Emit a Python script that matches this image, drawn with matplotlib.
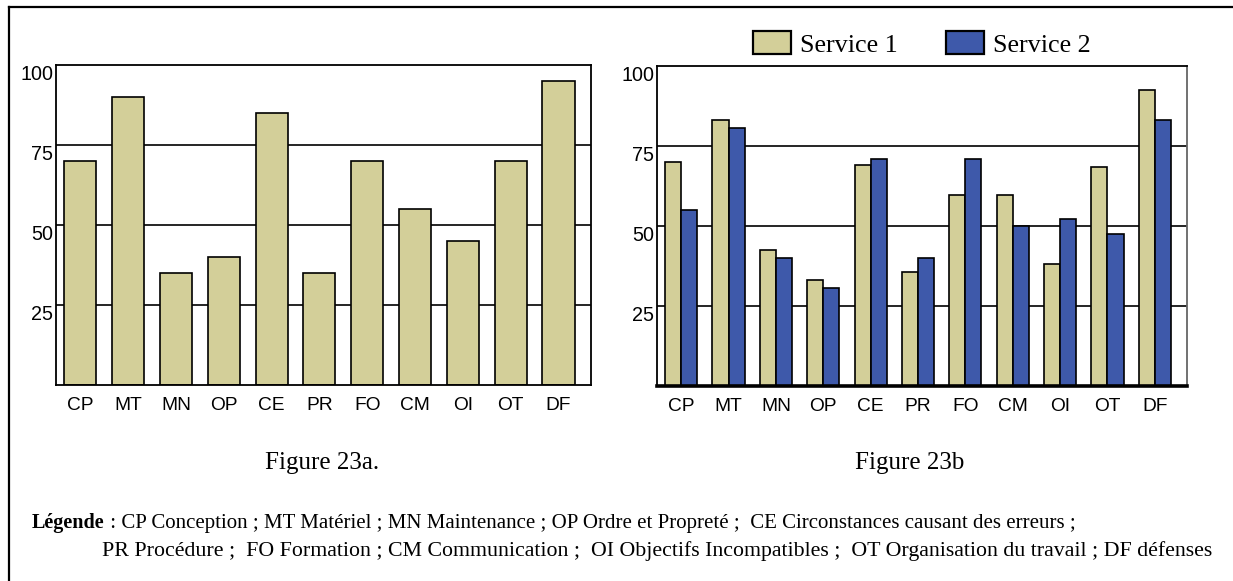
import matplotlib
matplotlib.use('Agg')
import matplotlib.pyplot as plt
import numpy as np
from matplotlib.lines import Line2D

# ========== 数据 ==========
categories = ['CP', 'MT', 'MN', 'OP', 'CE', 'PR', 'FO', 'CM', 'OI', 'OT', 'DF']
values_a = [70, 90, 35, 40, 85, 35, 70, 55, 45, 70, 95]
service1 = [70, 83, 42.5, 33, 69, 35.5, 59.5, 59.5, 38, 68.5, 92.5]
service2 = [55, 80.5, 40, 30.5, 71, 40, 71, 50, 52, 47.5, 83]
yticks = [25, 50, 75, 100]

tan = '#D3CF99'
blue = '#3E59AA'
W, H = 1233, 581

plt.rcParams['font.family'] = ['Liberation Sans', 'DejaVu Sans']
fig = plt.figure(figsize=(W / 100, H / 100), dpi=100)


def setup_axes(ax):
    ax.set_ylim(0, 100)
    ax.set_xlim(-0.51, 10.68)
    ax.set_yticks(yticks)
    ax.set_xticks(np.arange(len(categories)))
    ax.set_xticklabels(categories)
    ax.tick_params(axis='both', length=0, colors='black')
    ax.tick_params(axis='x', pad=9, labelsize=13.8)
    ax.tick_params(axis='y', pad=2, labelsize=14.2)
    for lab in ax.get_yticklabels():
        lab.set_va('top')
    for y in yticks[:-1]:
        ax.axhline(y, color='black', lw=1.2, zorder=1)
    for s in ax.spines.values():
        s.set_color('black')
        s.set_linewidth(1.3)


# ========== Figure 23a ==========
ax1 = fig.add_axes([56 / W, 1 - 385 / H, (591 - 56) / W, 320 / H])
x = np.arange(len(categories))
ax1.bar(x, values_a, width=0.67, color=tan, edgecolor='black', linewidth=1.2, zorder=2)
setup_axes(ax1)

# ========== Figure 23b ==========
ax2 = fig.add_axes([657 / W, 1 - 385.7 / H, (1187 - 657) / W, 320 / H])
b1 = ax2.bar(x - 0.17, service1, width=0.34, color=tan, edgecolor='black',
             linewidth=1.2, zorder=2, label='Service 1')
b2 = ax2.bar(x + 0.17, service2, width=0.34, color=blue, edgecolor='black',
             linewidth=1.2, zorder=2, label='Service 2')
setup_axes(ax2)
ax2.spines['bottom'].set_linewidth(2.6)
ax2.spines['right'].set_color('#666666')

leg = fig.legend(handles=[b1, b2], loc='center left', bbox_to_anchor=(753 / W, 1 - 44 / H),
                 ncol=2, frameon=False, prop={'family': 'Liberation Serif', 'size': 18.8},
                 handlelength=1.45, handleheight=0.92, handletextpad=0.35,
                 columnspacing=1.85, borderpad=0, borderaxespad=0)
for p in leg.get_patches():
    p.set_linewidth(1.6)

# ========== 标题 ==========
fig.text(322 / W, 1 - 469 / H, 'Figure 23a.', ha='center', va='baseline',
         family='Liberation Serif', fontsize=18)
fig.text(910 / W, 1 - 469 / H, 'Figure 23b', ha='center', va='baseline',
         family='Liberation Serif', fontsize=18)

# ========== 图例说明 ==========
t1 = fig.text(32 / W, 1 - 528 / H, 'Légende', ha='left', va='baseline',
              fontweight='bold', family='Liberation Serif', size=14.5)
line1 = (' : CP Conception ; MT Matériel ; MN Maintenance ; OP Ordre et Propreté ;  '
         'CE Circonstances causant des erreurs ;')
ann = matplotlib.text.Annotation(line1, xy=(1, 0), xycoords=t1, va='bottom', ha='left',
                                 family='Liberation Serif', size=15.0)
fig.add_artist(ann)
line2 = ('PR Procédure ;  FO Formation ; CM Communication ;  OI Objectifs Incompatibles ;  '
         'OT Organisation du travail ; DF défenses')
fig.text(102 / W, 1 - 556 / H, line2, ha='left', va='baseline',
         family='Liberation Serif', size=15.75)

# ========== 外框 ==========
fig.add_artist(Line2D([9 / W, 9 / W], [0, 1 - 6.5 / H], color='black', lw=1.6,
                      transform=fig.transFigure))
fig.add_artist(Line2D([9 / W, 1], [1 - 6.5 / H, 1 - 6.5 / H], color='black', lw=1.6,
                      transform=fig.transFigure))

plt.savefig('out.png', dpi=100)
plt.close()
